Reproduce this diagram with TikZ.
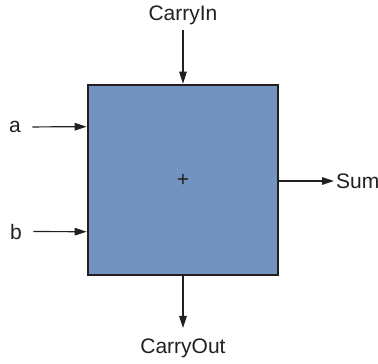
\documentclass[tikz,border=0pt]{standalone}
\usepackage{fontspec}
\setmainfont{Liberation Sans}
\usetikzlibrary{arrows.meta,positioning}
\definecolor{addblue}{RGB}{114,147,192}
\definecolor{inkgray}{RGB}{35,31,32}

\begin{document}
\begin{tikzpicture}[x=1pt, y=1pt, font=\fontsize{21}{25}\selectfont, text=inkgray,
	wire/.style={draw=inkgray, line width=1.2pt, -{Triangle[length=12pt,width=7.5pt]}}]
			\useasboundingbox (0,0) rectangle (378,-364);
			\node[draw=inkgray, line width=2.6pt, fill=addblue, minimum size=190pt, inner sep=0pt](adder) at (183,-180){+};
			\coordinate (ain) at ([yshift=-43pt]adder.north west);
			\coordinate (bin) at ([yshift=-148pt]adder.north west);
			\node(a) at (15,-127){a};
			\node(b) at (16,-231.5){b};
			\node(cin) at (183,-15){CarryIn};
			\node(cout) at (183,-348){CarryOut};
			\node[anchor=west, inner sep=2pt](sum) at (334,-181){Sum};
			\draw[wire, shorten <=8pt] (a) -- (ain);
			\draw[wire, shorten <=8pt] (b) -- (bin);
			\draw[wire, shorten <=2pt] (cin) -- (adder.north);
			\draw[wire, shorten >=7pt] (adder.south) -- (cout);
			\draw[wire] (adder.east |- sum) -- (sum);
			\end{tikzpicture}
\end{document}
